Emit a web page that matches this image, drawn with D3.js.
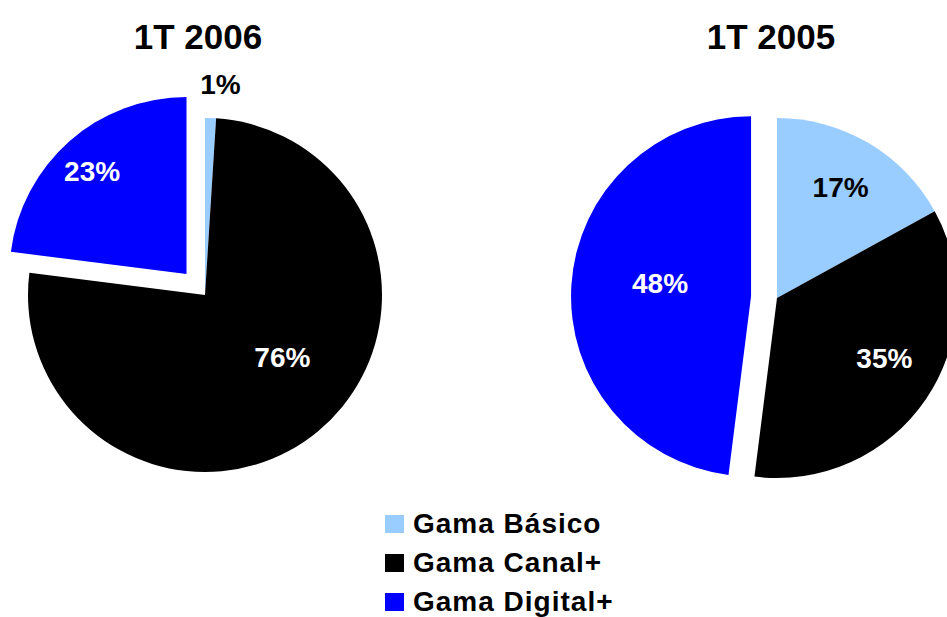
<!DOCTYPE html>
<html>
<head>
<meta charset="utf-8">
<script src="https://cdn.jsdelivr.net/npm/d3@7"></script>
<style>
  body { margin: 0; background: #fff; }
  svg { display: block; }
  text { font-family: Arial, "Liberation Sans", sans-serif; font-weight: bold; }
</style>
</head>
<body>
<div id="grafica"></div>
<script>
// --- datos
const categorias = ['Gama Básico', 'Gama Canal+', 'Gama Digital+']
const colores = ['#99ccff', '#000000', '#0000ff']
const titulos = ['1T 2006', '1T 2005']
const valores2006 = [1, 76, 23]
const valores2005 = [17, 35, 48]
const etiquetas2006 = ['1%', '76%', '23%']
const etiquetas2005 = ['17%', '35%', '48%']

// --- layout
const width = 947, height = 617
const toRad = (g) => g * Math.PI / 180

const tartas = [
  { titulo: titulos[0], valores: valores2006, etiquetas: etiquetas2006,
    cx: 205, cy: 295, r: 177, tx: 198, separa: [0, 0, 28],
    labelR: [212, 99, 140], labelDA: [2.4, -11.8, -1],
    labelColor: ['#000', '#fff', '#fff'] },
  { titulo: titulos[1], valores: valores2005, etiquetas: etiquetas2005,
    cx: 777, cy: 298, r: 180, tx: 771, separa: [0, 0, 26],
    labelR: [128, 123, 92], labelDA: [-0.8, -5, 4.8],
    labelColor: ['#000', '#fff', '#fff'] }
]

const svg = d3.select('#grafica')
              .append('svg')
              .attr('width', width)
              .attr('height', height)

const pie = d3.pie().sort(null).value((d) => d)

tartas.forEach((t) => {
  const arcos = pie(t.valores)
  const arc = d3.arc().innerRadius(0).outerRadius(t.r)
  const g = svg.append('g').attr('transform', `translate(${t.cx},${t.cy})`)

  const offset = (d, i) => {
    const mid = (d.startAngle + d.endAngle) / 2
    return [Math.sin(mid) * t.separa[i], -Math.cos(mid) * t.separa[i]]
  }

  g.selectAll('path')
   .data(arcos)
   .enter()
   .append('path')
   .attr('d', arc)
   .attr('fill', (d, i) => colores[i])
   .attr('transform', (d, i) => {
     const [dx, dy] = offset(d, i)
     return `translate(${dx},${dy})`
   })

  g.selectAll('text.etiqueta')
   .data(arcos)
   .enter()
   .append('text')
   .attr('class', 'etiqueta')
   .attr('text-anchor', 'middle')
   .attr('font-size', 28)
   .attr('fill', (d, i) => t.labelColor[i])
   .attr('x', (d, i) => {
     const a = (d.startAngle + d.endAngle) / 2 + toRad(t.labelDA[i])
     return offset(d, i)[0] + Math.sin(a) * t.labelR[i]
   })
   .attr('y', (d, i) => {
     const a = (d.startAngle + d.endAngle) / 2 + toRad(t.labelDA[i])
     return offset(d, i)[1] - Math.cos(a) * t.labelR[i] + 10
   })
   .text((d, i) => t.etiquetas[i])

  svg.append('text')
     .attr('x', t.tx)
     .attr('y', 49)
     .attr('text-anchor', 'middle')
     .attr('font-size', 35)
     .attr('fill', '#000')
     .text(t.titulo)
})

// --- leyenda
const leyenda = svg.selectAll('g.leyenda')
                   .data(categorias)
                   .enter()
                   .append('g')
                   .attr('class', 'leyenda')
                   .attr('transform', (d, i) => `translate(385,${515 + i * 39})`)
leyenda.append('rect')
       .attr('width', 19)
       .attr('height', 18)
       .attr('fill', (d, i) => colores[i])
leyenda.append('text')
       .attr('x', 28)
       .attr('y', 18)
       .attr('font-size', 28)
       .attr('letter-spacing', 1)
       .attr('fill', '#000')
       .text((d) => d)
</script>
</body>
</html>
